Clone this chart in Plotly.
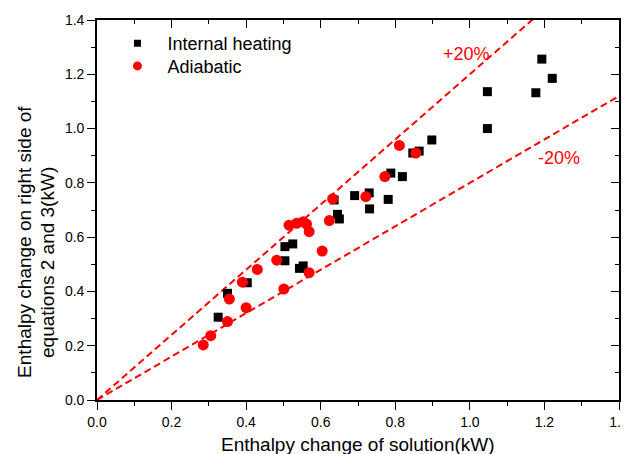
import plotly.graph_objects as go

# Internal heating (black squares)
ih_x = [0.325, 0.350, 0.403, 0.504, 0.525, 0.504, 0.543, 0.553, 0.636, 0.645, 0.650,
        0.691, 0.730, 0.731, 0.781, 0.788, 0.819, 0.847, 0.864, 0.898, 1.047, 1.047,
        1.177, 1.193, 1.221]
ih_y = [0.305, 0.393, 0.432, 0.565, 0.575, 0.513, 0.485, 0.494, 0.737, 0.684, 0.667,
        0.753, 0.763, 0.704, 0.739, 0.836, 0.823, 0.910, 0.917, 0.958, 1.136, 1.000,
        1.132, 1.256, 1.185]

# Adiabatic (red circles)
ad_x = [0.285, 0.305, 0.350, 0.355, 0.390, 0.400, 0.430, 0.482, 0.501, 0.515, 0.535,
        0.553, 0.562, 0.569, 0.569, 0.604, 0.623, 0.632, 0.721, 0.772, 0.811, 0.855]
ad_y = [0.203, 0.237, 0.289, 0.372, 0.434, 0.340, 0.481, 0.515, 0.409, 0.644, 0.651,
        0.657, 0.648, 0.620, 0.469, 0.549, 0.661, 0.741, 0.749, 0.823, 0.938, 0.910]

# +/-20% reference lines
line_factors = [1.2, 0.8]
line_labels = ["+20%", "-20%"]
line_x = [0.0, 1.4]
label_pos = [(0.99, 1.275), (1.238, 0.893)]

x_ticks = [0.0, 0.2, 0.4, 0.6, 0.8, 1.0, 1.2, 1.4]
y_ticks = [0.0, 0.2, 0.4, 0.6, 0.8, 1.0, 1.2, 1.4]

x_title = "Enthalpy change of solution(kW)"
y_title_lines = ["Enthalpy change on right side of", "equations 2 and 3(kW)"]

FONT = "Liberation Sans, Arial, sans-serif"
RED = "#ff0000"

fig = go.Figure()

for f in line_factors:
    fig.add_trace(go.Scatter(
        x=line_x, y=[f * v for v in line_x], mode="lines",
        line=dict(color=RED, width=2, dash="7px,4px"),
        showlegend=False, hoverinfo="skip"))

fig.add_trace(go.Scatter(
    x=ih_x, y=ih_y, mode="markers", name="Internal heating", showlegend=False,
    marker=dict(symbol="square", size=9, color="black")))
fig.add_trace(go.Scatter(
    x=ad_x, y=ad_y, mode="markers", name="Adiabatic", showlegend=False,
    marker=dict(symbol="circle", size=11, color=RED)))

# legend entries (smaller symbols as in the reference legend), one legend per row
fig.add_trace(go.Scatter(x=[None], y=[None], mode="markers", name="Internal heating",
                         legend="legend",
                         marker=dict(symbol="square", size=7, color="black")))
fig.add_trace(go.Scatter(x=[None], y=[None], mode="markers", name="Adiabatic",
                         legend="legend2",
                         marker=dict(symbol="circle", size=9, color=RED)))

# invisible trace to activate secondary (mirror) axes
fig.add_trace(go.Scatter(x=[None], y=[None], xaxis="x2", yaxis="y2",
                         showlegend=False, hoverinfo="skip"))

for lab, (lx, ly) in zip(line_labels, label_pos):
    fig.add_annotation(x=lx, y=ly, text=lab, showarrow=False,
                       font=dict(family=FONT, size=18, color=RED))

# axis titles
fig.add_annotation(xref="paper", yref="paper", x=0.5, y=-0.118, text=x_title,
                   showarrow=False, xanchor="center", yanchor="middle",
                   font=dict(family=FONT, size=19, color="black"))
for txt, px, py in zip(y_title_lines, [-0.138, -0.096], [0.416, 0.363]):
    fig.add_annotation(xref="paper", yref="paper", x=px, y=py, text=txt,
                       showarrow=False, textangle=-90, xanchor="center",
                       yanchor="middle", font=dict(family=FONT, size=19, color="black"))

tick_main = dict(ticks="outside", ticklen=8, tickwidth=1.3, tickcolor="black",
                 minor=dict(dtick=0.1, ticks="outside", ticklen=4.5, tickwidth=1.3,
                            tickcolor="black"))
tick_mirror = dict(ticks="inside", ticklen=8, tickwidth=1.3, tickcolor="black",
                   minor=dict(dtick=0.1, ticks="inside", ticklen=4.5, tickwidth=1.3,
                              tickcolor="black"))
base = dict(range=[0, 1.4], linecolor="black", linewidth=1.6, showline=True,
            showgrid=False, zeroline=False, automargin=False)

legend_common = dict(xanchor="left", yanchor="top", itemwidth=50,
                     bgcolor="rgba(0,0,0,0)", font=dict(size=18))

fig.update_layout(
    width=621, height=446,
    margin=dict(l=89, r=10, t=12, b=54),
    paper_bgcolor="white", plot_bgcolor="white",
    font=dict(family=FONT, size=14, color="black"),
    xaxis=dict(**base, **tick_main, tickvals=x_ticks, tickformat=".1f"),
    yaxis=dict(**base, **tick_main, tickvals=y_ticks, tickformat=".1f"),
    xaxis2=dict(**base, **tick_mirror, overlaying="x", side="top", anchor="y",
                tickvals=x_ticks, showticklabels=False),
    yaxis2=dict(**base, **tick_mirror, overlaying="y", side="right", anchor="x",
                tickvals=y_ticks, showticklabels=False),
    legend=dict(x=0.02, y=0.987, **legend_common),
    legend2=dict(x=0.02, y=0.927, **legend_common),
)

fig.write_html("out.html")
